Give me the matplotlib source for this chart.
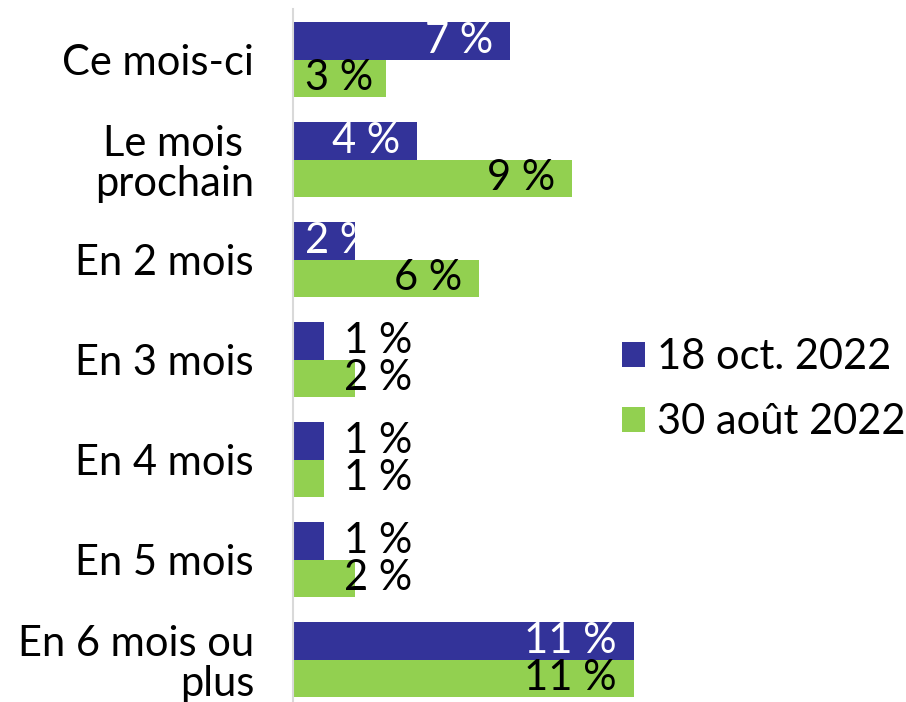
import matplotlib
matplotlib.use('Agg')
import matplotlib.pyplot as plt
import numpy as np

plt.rcParams['font.family'] = ['Lato', 'DejaVu Sans']

categories = ["Ce mois-ci", "Le mois \nprochain", "En 2 mois", "En 3 mois",
              "En 4 mois", "En 5 mois", "En 6 mois ou\nplus"]
oct_2022 = [7, 4, 2, 1, 1, 1, 11]
aout_2022 = [3, 9, 6, 2, 1, 2, 11]
series_names = ["18 oct. 2022", "30 août 2022"]

# label inside the bar end, or just right of the short bars
oct_inside = [True, True, True, False, False, False, True]
aout_inside = [True, True, True, False, False, False, True]

BLUE = '#333399'
GREEN = '#92D050'
FS = 30

fig = plt.figure(figsize=(9.06, 7.02), dpi=100)
ax = fig.add_axes([293 / 906, -7.5 / 702, 372 / 906, 700 / 702])

y = np.arange(len(categories))
h = 0.375

bars_oct = ax.barh(y - h / 2, oct_2022, height=h, color=BLUE, label=series_names[0])
bars_aout = ax.barh(y + h / 2, aout_2022, height=h, color=GREEN, label=series_names[1])


def add_labels(bars, values, inside, txt_color):
    for bar, v, ins in zip(bars, values, inside):
        yc = bar.get_y() + bar.get_height() / 2
        if ins:
            t = ax.text(max(v - 0.55, 2.6), yc, f"{v} %", ha='right', va='center',
                        fontsize=FS, color=txt_color)
            t.set_clip_path(bar)
        else:
            ax.text(1.66, yc, f"{v} %", ha='left', va='center', fontsize=FS,
                    color='black')


add_labels(bars_oct, oct_2022, oct_inside, 'white')
add_labels(bars_aout, aout_2022, aout_inside, 'black')

ax.set_xlim(0, 12)
ax.set_ylim(len(categories) - 0.5, -0.5)
ax.set_yticks(y)
ax.set_yticklabels(categories, fontsize=FS, linespacing=1.05)
ax.tick_params(axis='y', length=0, pad=28)
ax.set_xticks([])
for s in ['top', 'right', 'bottom']:
    ax.spines[s].set_visible(False)
ax.spines['left'].set_color('#d9d9d9')
ax.spines['left'].set_linewidth(1.5)

fig.legend(loc='upper left', bbox_to_anchor=(622 / 906, 1 - 338 / 702),
           frameon=False, fontsize=FS, handlelength=0.55, handleheight=0.55,
           handletextpad=0.3, labelspacing=0.65, borderpad=0, borderaxespad=0)

fig.savefig('out.png', dpi=100, facecolor='white')
